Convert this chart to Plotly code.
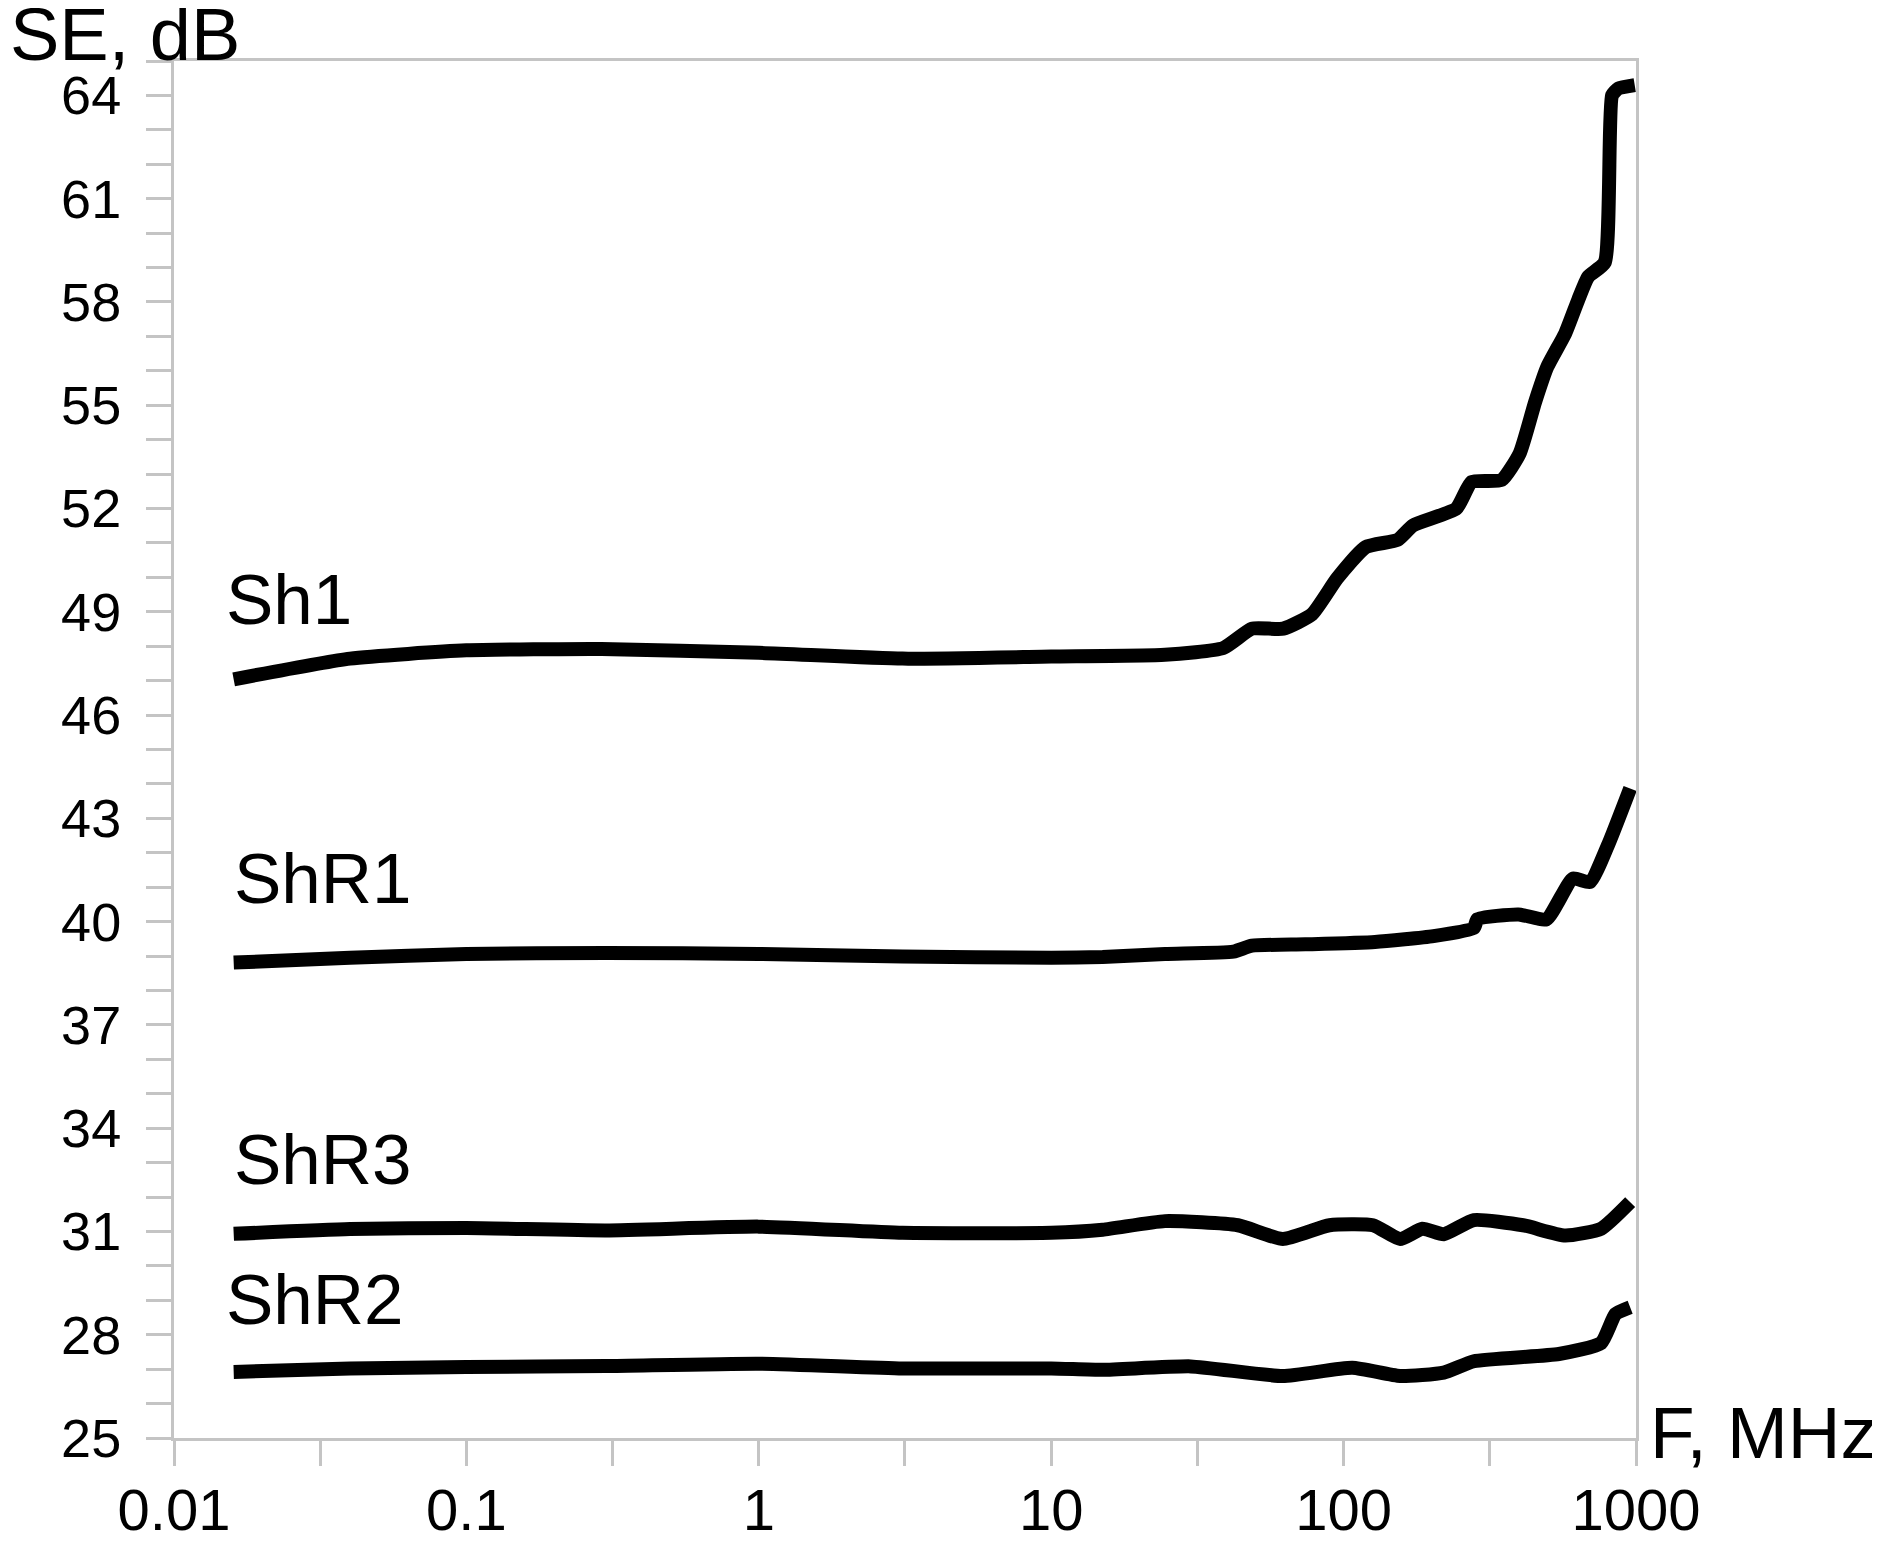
import plotly.graph_objects as go

# ---- data ----
freq_sh1 = [0.016, 0.04, 0.1, 0.29, 1, 3.1, 10, 24.5, 38.8, 48.6, 62.2, 78, 95, 119, 153, 173,
            243, 274, 347, 400, 452, 497, 573, 635, 686, 782, 828, 870, 990]
se_sh1 = [47.04, 47.64, 47.88, 47.92, 47.81, 47.64, 47.7, 47.75, 47.95, 48.51, 48.51, 48.93, 49.97,
          50.88, 51.09, 51.51, 52.0, 52.77, 52.83, 53.6, 55.1, 56.11, 57.09, 58.07, 58.73, 59.15,
          64.0, 64.2, 64.3]

freq_shr1 = [0.016, 0.04, 0.1, 0.3, 1, 3.1, 10, 15, 24.5, 42, 48.6, 74, 128, 203, 279, 287,
             396, 494, 608, 696, 800, 955]
se_shr1 = [38.81, 38.95, 39.06, 39.09, 39.06, 38.99, 38.95, 38.97, 39.06, 39.13, 39.30, 39.34,
           39.41, 39.58, 39.82, 40.07, 40.21, 40.07, 41.25, 41.15, 42.2, 43.87]

freq_shr3 = [0.016, 0.04, 0.1, 0.3, 1, 3.1, 10, 15, 24.5, 43.5, 62, 89.5, 126, 156, 186, 220,
             279, 411, 573, 760, 955]
se_shr3 = [30.93, 31.07, 31.1, 31.03, 31.14, 30.96, 30.96, 31.05, 31.3, 31.18, 30.78, 31.18,
           31.18, 30.78, 31.08, 30.92, 31.33, 31.18, 30.88, 31.08, 31.85]

freq_shr2 = [0.016, 0.04, 0.1, 0.3, 1, 3.1, 10, 15, 30, 62, 107, 156, 220, 279, 545, 760, 851, 955]
se_shr2 = [26.92, 27.02, 27.06, 27.09, 27.16, 27.02, 27.02, 26.98, 27.08, 26.8, 27.04, 26.8,
           26.9, 27.23, 27.44, 27.76, 28.6, 28.8]

series_names = ["Sh1", "ShR1", "ShR3", "ShR2"]
series_freq = [freq_sh1, freq_shr1, freq_shr3, freq_shr2]
series_se = [se_sh1, se_shr1, se_shr3, se_shr2]

# label anchor positions (log10 F, dB)
label_logf = [-1.83, -1.80, -1.80, -1.83]
label_db = [49.35, 41.24, 33.09, 29.03]

x_tickvals = [0.01, 0.0316, 0.1, 0.316, 1, 3.16, 10, 31.6, 100, 316, 1000]
x_ticktext = ["0.01", "", "0.1", "", "1", "", "10", "", "100", "", "1000"]
y_tickvals = list(range(25, 66))
y_ticktext = [str(v) if (v - 25) % 3 == 0 else "" for v in y_tickvals]

FONT = "Liberation Sans, Arial, sans-serif"
GRAY = "#c4c4c4"

L, T, PW, PH = 166, 53, 1462, 1377

fig = go.Figure()
for name, f, s in zip(series_names, series_freq, series_se):
    fig.add_trace(go.Scatter(x=f, y=s, mode="lines", name=name,
                             line=dict(color="black", width=14, shape="spline", smoothing=0.5),
                             showlegend=False))

for name, lx, ly in zip(series_names, label_logf, label_db):
    fig.add_annotation(x=lx, y=ly, xref="x", yref="y", text=name, showarrow=False,
                       xanchor="left", yanchor="middle",
                       font=dict(family=FONT, size=71, color="black"))

fig.add_annotation(x=(0 - L) / PW, y=1 + (T - 26) / PH, xref="paper", yref="paper",
                   text="SE, dB", showarrow=False, xanchor="left", yanchor="middle",
                   font=dict(family=FONT, size=74, color="black"))
fig.add_annotation(x=(1640 - L) / PW, y=0.004, xref="paper", yref="paper", text="F, MHz",
                   showarrow=False, xanchor="left", yanchor="middle",
                   font=dict(family=FONT, size=73, color="black"))

fig.update_xaxes(type="log", range=[-2, 3], tickvals=x_tickvals, ticktext=x_ticktext,
                 ticks="outside", ticklen=25, tickwidth=3, tickcolor=GRAY,
                 showline=True, linecolor=GRAY, linewidth=3, mirror=True,
                 showgrid=False, zeroline=False, ticklabelstandoff=-6, automargin=False,
                 tickfont=dict(family=FONT, size=58, color="black"))
fig.update_yaxes(range=[25, 65], tickvals=y_tickvals, ticktext=y_ticktext,
                 ticks="outside", ticklen=25, tickwidth=3, tickcolor=GRAY,
                 showline=True, linecolor=GRAY, linewidth=3, mirror=True,
                 showgrid=False, zeroline=False, ticklabelstandoff=14, automargin=False,
                 tickfont=dict(family=FONT, size=54, color="black"))

fig.update_layout(width=1880, height=1562, paper_bgcolor="white", plot_bgcolor="white",
                  margin=dict(l=L, r=1880 - L - PW, t=T, b=1562 - T - PH, autoexpand=False),
                  showlegend=False)

fig.write_html("out.html")
